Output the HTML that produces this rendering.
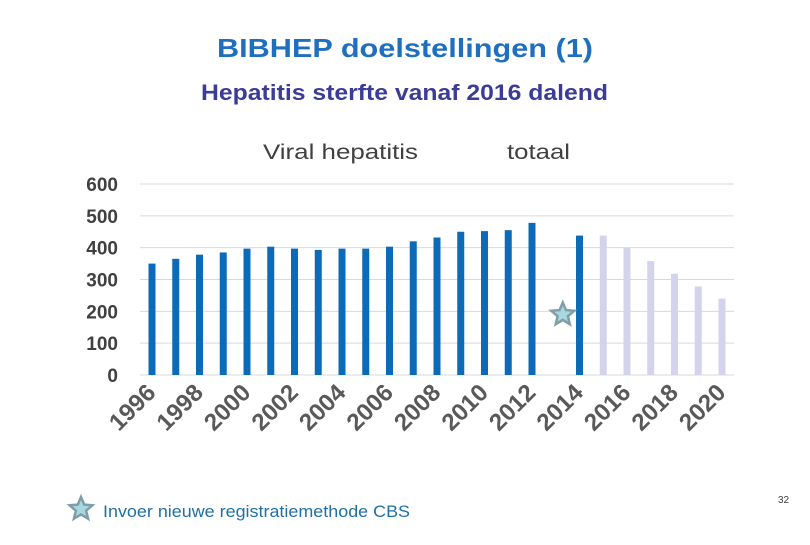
<!DOCTYPE html>
<html><head><meta charset="utf-8"><style>
body{margin:0;background:#fff;width:810px;height:540px;overflow:hidden;font-family:"Liberation Sans",sans-serif}
</style></head><body>
<svg width="810" height="540">
<text x="217" y="57" font-size="26" font-weight="bold" fill="#1f6fbf" textLength="376" lengthAdjust="spacingAndGlyphs">BIBHEP doelstellingen (1)</text>
<text x="201" y="100" font-size="22" font-weight="bold" fill="#3b3b98" textLength="407" lengthAdjust="spacingAndGlyphs">Hepatitis sterfte vanaf 2016 dalend</text>
<text x="263" y="159" font-size="21" fill="#404040" textLength="155" lengthAdjust="spacingAndGlyphs">Viral hepatitis</text>
<text x="507" y="159" font-size="21" fill="#404040" textLength="63" lengthAdjust="spacingAndGlyphs">totaal</text>
<g id="grid"></g><g id="bars"></g><g id="xl"></g>
<g>
<polygon id="lstar" fill="#a8d8e0" stroke="#7f9ea6" stroke-width="2.5"/>
<text x="103" y="517" font-size="17" fill="#1f6fa8" textLength="307" lengthAdjust="spacingAndGlyphs">Invoer nieuwe registratiemethode CBS</text>
</g>
<text x="778" y="503" font-size="10" fill="#404040">32</text>
<polygon id="star" fill="#a8d8e0" stroke="#7f9ea6" stroke-width="2.5"/>
</svg>
<script>
const years=[1996,1997,1998,1999,2000,2001,2002,2003,2004,2005,2006,2007,2008,2009,2010,2011,2012,2013,2014,2015,2016,2017,2018,2019,2020];
const actual=[350,365,378,385,397,403,397,393,397,397,403,420,432,450,452,455,478,null,438,null,null,null,null,null,null];
const target=[null,null,null,null,null,null,null,null,null,null,null,null,null,null,null,null,null,null,null,438,400,358,318,278,240];
const yTicks=[0,100,200,300,400,500,600];
const starValue=190, starYear=2013;
const ns='http://www.w3.org/2000/svg';
const x=i=>152+i*23.75, y=v=>375-v*(191/600);
function mk(t,a,p){const e=document.createElementNS(ns,t);for(const k in a)e.setAttribute(k,a[k]);p.appendChild(e);return e;}
const G=document.getElementById('grid');
yTicks.forEach(v=>{const l=mk('line',{x1:140,x2:734,y1:y(v),y2:y(v),stroke:'#d9d9d9','stroke-width':1},G);


const t=mk('text',{x:118,y:y(v)+7,'text-anchor':'end','font-size':19,'font-weight':'bold',fill:'#404040'},G);t.textContent=v;

});
const B=document.getElementById('bars');
years.forEach((yr,i)=>{[[actual,'#0b6bb8'],[target,'#d3d4ec']].forEach(([s,c])=>{const v=s[i];if(v==null)return;
const r=mk('rect',{x:x(i)-3.5,width:7,y:y(v),height:y(0)-y(v),fill:c},B);

});});
const X=document.getElementById('xl');
years.forEach((yr,i)=>{if(i%2)return;const tx=x(i)+5,ty=394;
const t=mk('text',{x:tx,y:ty,'text-anchor':'end','font-size':24,'font-weight':'bold',fill:'#595959',textLength:54,lengthAdjust:'spacingAndGlyphs',transform:`rotate(-45 ${tx} ${ty})`},X);t.textContent=yr;

});
function starPts(cx,cy,R){let p=[];for(let k=0;k<10;k++){const r=k%2?R*0.45:R,a=-Math.PI/2+k*Math.PI/5;p.push((cx+r*Math.cos(a)).toFixed(1)+','+(cy+r*Math.sin(a)).toFixed(1));}return p.join(' ');}
document.getElementById('star').setAttribute('points',starPts(x(years.indexOf(starYear))+7,y(starValue),12));
document.getElementById('lstar').setAttribute('points',starPts(81,509,12));
</script>
</body></html>
